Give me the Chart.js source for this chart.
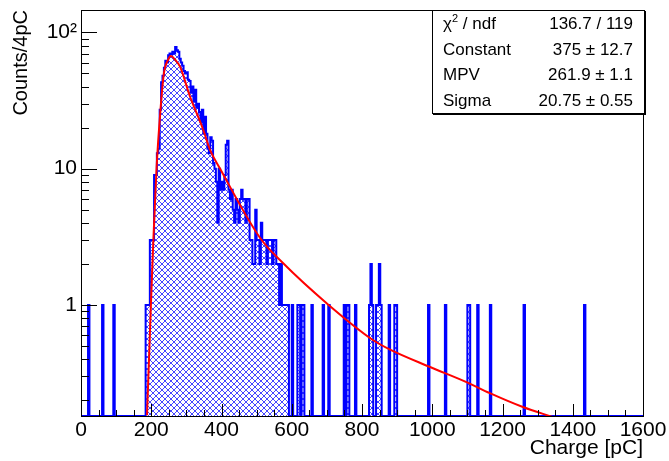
<!DOCTYPE html>
<html>
<head>
<meta charset="utf-8">
<script src="https://cdn.jsdelivr.net/npm/chart.js@4.4.0/dist/chart.umd.min.js"></script>
<style>
  html, body { margin: 0; padding: 0; background: #fff; }
  #wrap { position: relative; width: 669px; height: 461px; }
  #stats {
    position: absolute; left: 432px; top: 10px; width: 213px; height: 104px;
    box-sizing: border-box; border: 1px solid #000; background: #fff;
    box-shadow: 1px 1px 0 #000;
    font-family: "Liberation Sans", Arial, sans-serif; font-size: 17px; color: #000;
  }
  #stats .row { display: flex; justify-content: space-between; height: 25.5px; line-height: 25.5px; padding: 0 11px 0 10px; }
  #stats sup { font-size: 11px; line-height: 0; }
</style>
</head>
<body>
<div id="wrap">
  <canvas id="c" width="669" height="461"></canvas>
  <div id="stats">
    <div class="row"><span>χ<sup>2</sup> / ndf</span><span>136.7 / 119</span></div>
    <div class="row"><span>Constant</span><span>375 ± 12.7</span></div>
    <div class="row"><span>MPV</span><span>261.9 ± 1.1</span></div>
    <div class="row"><span>Sigma</span><span>20.75 ± 0.55</span></div>
  </div>
</div>
<script>
// ── Charge spectrum (4 pC bins, log y) with Landau fit ──

const binWidth = 4;
const nBins = 400;

// contiguous part of the spectrum, starting at bin 46 (184 pC)
const peakStart = 46;
const peakCounts = [
  1, 1, 1, 3, 3, 3, 9, 9, 13, 14,
  27, 43, 48, 55, 62, 60, 68, 70, 69, 72,
  70, 78, 74, 72, 64, 60, 57, 52, 50, 51,
  45, 44, 36, 40, 31, 38, 28, 30, 26, 22,
  27, 18, 24, 18, 14, 13, 17, 16, 11, 10,
  8, 4, 10, 7, 8, 7, 9, 15, 16, 7,
  6, 7, 5, 4, 6, 5, 4, 6, 7, 6,
  6, 4, 6, 6, 3, 3, 2, 2, 5, 3,
  3, 2, 4, 3, 3, 3, 2, 3, 3, 3,
  2, 3, 3, 2, 2, 1, 2, 1, 1, 1,
  1, 1
];

// isolated bins outside the peak
const singleBins   = [5, 15, 23, 150, 154, 155, 157, 158, 164, 172, 176, 187, 189, 190, 195, 205, 206, 207, 210, 211, 212, 213, 219, 223, 224, 247, 259, 275, 276, 282, 291, 315, 358];
const singleCounts = [1, 1, 1, 1, 1, 1, 1, 1, 1, 1, 1, 1, 1, 1, 1, 1, 2, 1, 1, 1, 2, 1, 1, 1, 1, 1, 1, 1, 1, 1, 1, 1, 1];

// Landau fit curve
const fitX = [188, 199, 206, 215, 227, 236, 248, 256, 268, 282, 310, 348, 367, 396, 510, 575, 705, 831, 880, 994, 1099, 1164, 1258, 1344];
const fitY = [0.155, 1.0, 3.0, 10, 28.5, 50, 63, 67, 63, 56, 34, 19.3, 13.8, 10, 3.1, 2.03, 1.0, 0.553, 0.47, 0.35, 0.27, 0.225, 0.178, 0.15];

const xTicks = [0, 200, 400, 600, 800, 1000, 1200, 1400, 1600];
const yTicks = [1, 10, 100];
const yLabels = ['1', '10', '10²'];

const yMin = 0.153, yMax = 146;

const counts = new Array(nBins).fill(0);
peakCounts.forEach((v, i) => { counts[peakStart + i] = v; });
singleBins.forEach((b, i) => { counts[b] = singleCounts[i]; });

const histPts = counts.map((v, i) => ({ x: i * binWidth, y: v > 0 ? v : yMin }));
histPts.push({ x: nBins * binWidth, y: yMin });
const fitPts = fitX.map((x, i) => ({ x: x, y: fitY[i] }));

const canvas = document.getElementById('c');
const ctx = canvas.getContext('2d');

// cross-hatch fill
const tile = document.createElement('canvas');
tile.width = tile.height = 6;
const tg = tile.getContext('2d');
tg.fillStyle = '#4646ff';
for (let k = 0; k < 6; k++) { tg.fillRect(k, k, 1, 1); tg.fillRect(5 - k, k, 1, 1); }
const hatch = ctx.createPattern(tile, 'repeat');

const font = { family: '"Liberation Sans", Arial, sans-serif', size: 21 };

const frameTicks = {
  id: 'frameTicks',
  afterDraw(chart) {
    const { ctx, chartArea: a, scales: { x, y } } = chart;
    ctx.save();
    ctx.strokeStyle = '#000';
    ctx.lineWidth = 1;
    ctx.beginPath();
    for (let v = 0; v <= 1600; v += 50) {
      const px = Math.round(x.getPixelForValue(v)) + 0.5;
      const len = v % 200 === 0 ? 12 : 6;
      ctx.moveTo(px, a.bottom); ctx.lineTo(px, a.bottom - len);
    }
    [0.1, 1, 10, 100].forEach(d => {
      for (let m = 1; m <= 9; m++) {
        const v = m * d;
        if (v < yMin || v > yMax) continue;
        const py = Math.round(y.getPixelForValue(v)) + 0.5;
        ctx.moveTo(a.left, py); ctx.lineTo(a.left + (m === 1 ? 16 : 8), py);
      }
    });
    ctx.stroke();
    ctx.strokeRect(Math.round(a.left) + 0.5, Math.round(a.top) + 0.5, Math.round(a.right - a.left), Math.round(a.bottom - a.top));
    ctx.restore();
  }
};

new Chart(ctx, {
  type: 'line',
  data: {
    datasets: [
      { label: 'fit', data: fitPts, borderColor: '#ff0000', borderWidth: 2, pointRadius: 0, fill: false, cubicInterpolationMode: 'monotone', order: 0 },
      { label: 'hist', data: histPts, borderColor: '#0000ff', borderWidth: 2, pointRadius: 0, stepped: 'before', fill: 'start', backgroundColor: hatch, order: 1 }
    ]
  },
  options: {
    responsive: false,
    animation: false,
    layout: { padding: { left: 0, right: 26, top: 10, bottom: 0 } },
    plugins: { legend: { display: false }, tooltip: { enabled: false } },
    scales: {
      x: {
        type: 'linear', min: 0, max: 1600,
        grid: { display: false, drawTicks: false }, border: { display: false },
        ticks: { autoSkip: false, maxRotation: 0, padding: 2, color: '#000', font: font, callback: v => String(v) },
        afterBuildTicks: s => { s.ticks = xTicks.map(v => ({ value: v })); },
        title: { display: true, text: 'Charge [pC]', align: 'end', color: '#000', font: font, padding: 0 },
        afterFit: s => { s.height = 45; s.paddingLeft = 0; s.paddingRight = 0; }
      },
      y: {
        type: 'logarithmic', min: yMin, max: yMax,
        grid: { display: false, drawTicks: false }, border: { display: false },
        ticks: { autoSkip: false, padding: 4, color: '#000', font: font, callback: v => { const i = yTicks.indexOf(v); return i >= 0 ? yLabels[i] : ''; } },
        afterBuildTicks: s => { s.ticks = yTicks.map(v => ({ value: v })); },
        title: { display: true, text: 'Counts/4pC', align: 'end', color: '#000', font: { family: font.family, size: 20 }, padding: 9 },
        afterFit: s => { s.width = 81; s.paddingTop = 0; s.paddingBottom = 0; }
      }
    }
  },
  plugins: [frameTicks]
});
</script>
</body>
</html>
